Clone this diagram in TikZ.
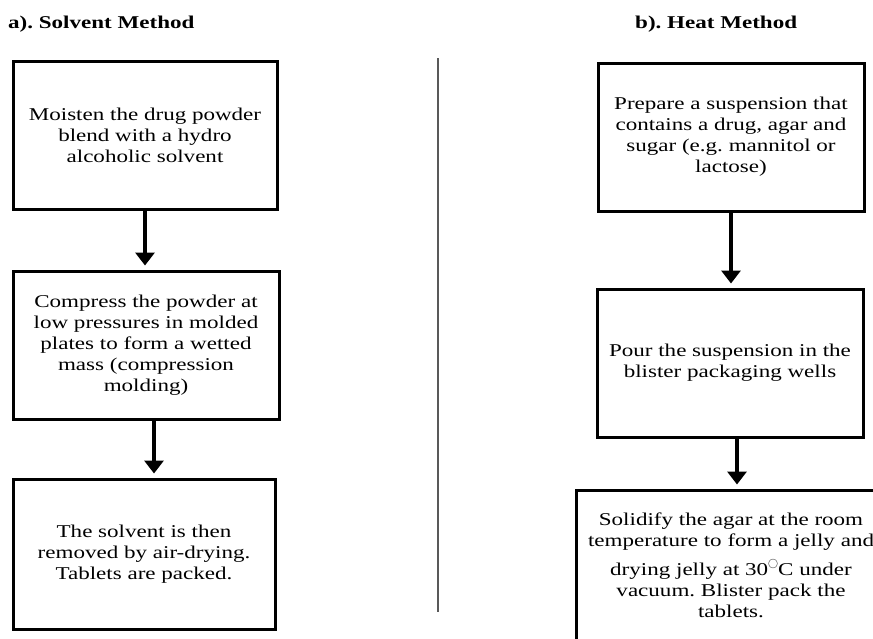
\documentclass[tikz,border=0pt]{standalone}
\usepackage{fontspec}
\setmainfont{Liberation Serif}[FakeStretch=1.28]
\usetikzlibrary{arrows.meta,shadows}
\frenchspacing

\tikzset{
  stepbox/.style={draw, fill=white, line width=3pt, align=center, inner sep=0pt,
    font=\fontsize{18}{21}\selectfont,
    drop shadow={shadow xshift=1.2pt, shadow yshift=-1.2pt, fill=black!50, opacity=0.45}},
  flow/.style={line width=3.5pt, -{Triangle[width=19pt,length=13pt]}, shorten >=4pt},
  heading/.style={anchor=base west, inner sep=0pt, font=\bfseries\fontsize{18}{21}\selectfont}
}
\newcommand{\degsym}{\raisebox{1.1ex}{\fontsize{10}{10}\selectfont$\bigcirc$}}

\begin{document}
\begin{tikzpicture}[x=1pt,y=-1pt]
  \useasboundingbox (0,0) rectangle (873,638);
  \clip (0,0) rectangle (873,638);

  % headings
  \node[heading] (solventhead) at (8,28) {a). Solvent Method};
  \node[heading] (heathead) at (635,28) {b). Heat Method};

  % divider
  \coordinate (divtop) at (438,58);
  \coordinate (divbot) at (438,612);
  \draw[line width=1.6pt, black!65] (divtop) -- (divbot);

  % a) solvent method
  \node[stepbox, minimum width=264pt, minimum height=148pt] (moisten) at (145,135)
    {Moisten the drug powder\\ blend with a hydro\\ alcoholic solvent};
  \node[stepbox, minimum width=266pt, minimum height=148pt] (compress) at (146,345)
    {Compress the powder at\\ low pressures in molded\\ plates to form a wetted\\ mass (compression\\ molding)};
  \node[stepbox, minimum width=262pt, minimum height=150pt] (airdry) at (144,554)
    {The solvent is then\\ removed by air-drying.\\ Tablets are packed.};

  \coordinate (lefttwo) at ([xshift=8pt]compress.south);
  \draw[flow] (moisten.south) -- (moisten.south |- compress.north);
  \draw[flow] (lefttwo) -- (lefttwo |- airdry.north);

  % b) heat method
  \node[stepbox, minimum width=266pt, minimum height=148pt] (prepare) at (731,137)
    {Prepare a suspension that\\ contains a drug, agar and\\ sugar (e.g. mannitol or\\ lactose)};
  \node[stepbox, minimum width=266pt, minimum height=148pt] (pour) at (730,363)
    {Pour the suspension in the\\ blister packaging wells};
  \node[stepbox, minimum width=310pt, minimum height=150pt] (solidify) at (731,565)
    {Solidify the agar at the room\\ temperature to form a jelly and\\[8pt]
     drying jelly at 30\degsym C under\\ vacuum. Blister pack the\\ tablets.};

  \coordinate (righttwo) at ([xshift=7pt]pour.south);
  \draw[flow] (prepare.south) -- (prepare.south |- pour.north);
  \draw[flow] (righttwo) -- (righttwo |- solidify.north);
\end{tikzpicture}
\end{document}
